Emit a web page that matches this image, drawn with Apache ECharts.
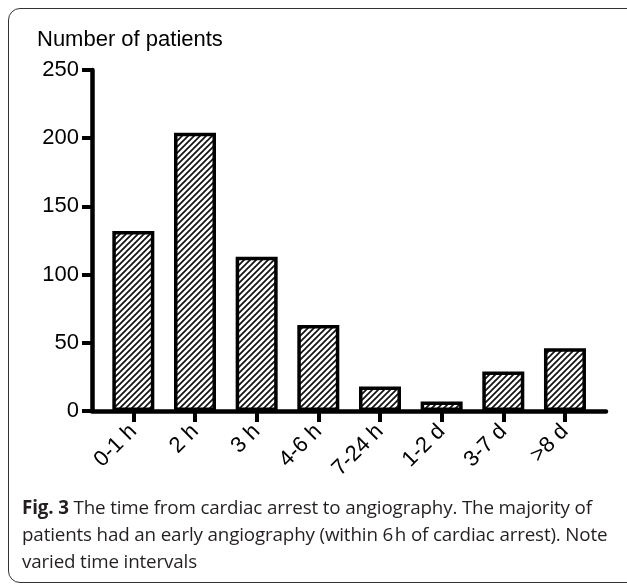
<!DOCTYPE html>
<html>
<head>
<meta charset="utf-8">
<script src="https://cdn.jsdelivr.net/npm/echarts@6/dist/echarts.min.js"></script>
<style>
  html, body { margin: 0; padding: 0; background: #fff; }
  .box {
    position: relative;
    width: 627px;
    height: 586px;
    overflow: hidden;
  }
  .box-frame {
    position: absolute;
    left: 8px;
    top: 8px;
    width: 640px;
    height: 573px;
    border: 1.5px solid #333;
    border-radius: 12px;
  }
  #chart {
    position: absolute;
    left: 0;
    top: 0;
    width: 627px;
    height: 495px;
  }
  .caption {
    position: absolute;
    left: 22px;
    top: 494px;
    width: 600px;
    font-family: "Open Sans", "Noto Sans", sans-serif;
    font-size: 18.8px;
    line-height: 27px;
    color: #231f20;
    letter-spacing: -0.15px;
  }
  .caption b { font-weight: 700; }
</style>
</head>
<body>
<div class="box">
  <div class="box-frame"></div>
  <div id="chart"></div>
  <div class="caption"><b>Fig. 3</b> The time from cardiac arrest to angiography. The majority of<br>patients had an early angiography (within 6&#8202;h of cardiac arrest). Note<br>varied time intervals</div>
</div>
<script>
const categories = ['0-1 h', '2 h', '3 h', '4-6 h', '7-24 h', '1-2 d', '3-7 d', '>8 d']
const patients = [132, 204, 113, 63, 18, 7, 29, 46]
const yTicks = [0, 50, 100, 150, 200, 250]

// hatch tile, "/" lines
const makeHatch = () => {
  const c = document.createElement('canvas')
  c.width = 6
  c.height = 6
  const ctx = c.getContext('2d')
  ctx.fillStyle = '#fff'
  ctx.fillRect(0, 0, 6, 6)
  ctx.strokeStyle = '#111'
  ctx.lineWidth = 1.7
  ctx.beginPath()
  ctx.moveTo(-1, 7); ctx.lineTo(7, -1)
  ctx.moveTo(-1, 1); ctx.lineTo(1, -1)
  ctx.moveTo(5, 7); ctx.lineTo(7, 5)
  ctx.stroke()
  return c
}

const chart = echarts.init(document.getElementById('chart'))
const font = 'Liberation Sans, Arial, sans-serif'

chart.setOption({
  animation: false,
  title: {
    text: 'Number of patients',
    left: 32,
    top: 24,
    textStyle: { fontFamily: font, fontSize: 22, fontWeight: 'normal', color: '#000' }
  },
  grid: [
    { left: 92, right: 21, top: 70, bottom: 84 },
    { left: 102.5, right: 31.2, top: 70, bottom: 84 }
  ],
  xAxis: [
    {
      gridIndex: 0,
      type: 'value',
      min: 0,
      max: 1,
      axisLine: { show: true, lineStyle: { color: '#000', width: 4.5 } },
      axisTick: { show: false },
      axisLabel: { show: false },
      splitLine: { show: false }
    },
    {
      gridIndex: 1,
      type: 'category',
      data: categories,
      axisLine: { show: false },
      axisTick: { show: true, alignWithLabel: true, length: 11, lineStyle: { color: '#000', width: 4 } },
      axisLabel: {
        rotate: 45,
        margin: 17,
        interval: 0,
        fontFamily: font,
        fontSize: 22,
        color: '#000'
      }
    }
  ],
  yAxis: [
    {
      gridIndex: 0,
      type: 'value',
      min: yTicks[0],
      max: yTicks[yTicks.length - 1],
      interval: 50,
      axisLine: { show: true, lineStyle: { color: '#000', width: 4.5 } },
      axisTick: { show: true, length: 10, lineStyle: { color: '#000', width: 4 } },
      axisLabel: { margin: 13, fontFamily: font, fontSize: 22, color: '#000' },
      splitLine: { show: false }
    },
    {
      gridIndex: 1,
      type: 'value',
      min: yTicks[0],
      max: yTicks[yTicks.length - 1],
      show: false
    }
  ],
  series: [
    {
      type: 'bar',
      xAxisIndex: 1,
      yAxisIndex: 1,
      barWidth: 42,
      data: patients,
      itemStyle: {
        color: { image: makeHatch(), repeat: 'repeat' },
        borderColor: '#000',
        borderWidth: 3.5
      },
      z: 1
    }
  ]
})
</script>
</body>
</html>
